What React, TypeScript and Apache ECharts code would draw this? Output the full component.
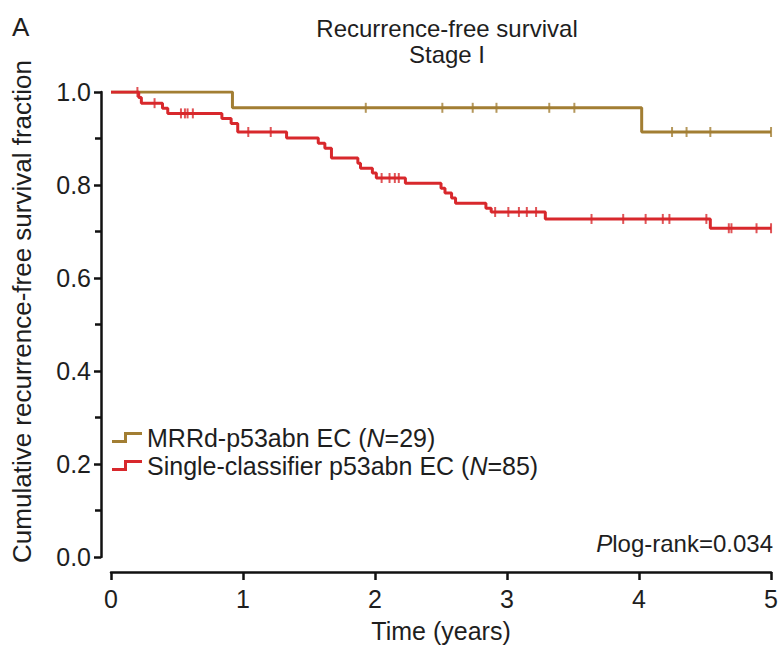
import React, { useEffect, useRef } from "react";
import * as echarts from "echarts";

// ---- data ----
const goldTimes = [0, 0.92, 4.02];
const goldSurv = [1.0, 0.966, 0.914];
const goldCensorTimes = [1.93, 2.51, 2.74, 2.92, 3.32, 3.51, 4.25, 4.36, 4.54, 5.0];

const redTimes = [0, 0.21, 0.23, 0.39, 0.43, 0.84, 0.91, 0.96, 1.33, 1.57, 1.62, 1.67, 1.87, 1.89, 1.98, 2.01, 2.23, 2.5, 2.53, 2.58, 2.61, 2.84, 2.88, 3.29, 4.54];
const redSurv = [1.0, 0.988, 0.976, 0.965, 0.954, 0.943, 0.932, 0.914, 0.901, 0.89, 0.879, 0.858, 0.847, 0.836, 0.826, 0.815, 0.804, 0.793, 0.783, 0.772, 0.761, 0.75, 0.742, 0.727, 0.707];
const redCensorTimes = [0.2, 0.33, 0.53, 0.56, 0.58, 0.62, 1.04, 1.21, 2.05, 2.11, 2.15, 2.18, 2.91, 3.01, 3.09, 3.15, 3.22, 3.64, 3.88, 4.05, 4.18, 4.23, 4.51, 4.68, 4.7, 4.89, 5.0];

const seriesNames = ["MRRd-p53abn EC", "Single-classifier p53abn EC"];
const seriesN = [29, 85];
const xTickValues = [0, 1, 2, 3, 4, 5];
const yTickValues = [0, 0.2, 0.4, 0.6, 0.8, 1.0];
const titleLines = ["Recurrence-free survival", "Stage I"];
const pValueText = "log-rank=0.034";

const GOLD = "#a27e33";
const RED = "#d8282c";
const FONT = "'Liberation Sans', Arial, sans-serif";
const TEXT = "#1e1e1e";

function stepData(times: number[], surv: number[], end: number) {
  const d = times.map((t, i) => [t, surv[i]]);
  d.push([end, surv[surv.length - 1]]);
  return d;
}
function levelAt(times: number[], surv: number[], t: number) {
  let s = surv[0];
  for (let i = 0; i < times.length; i++) if (times[i] <= t) s = surv[i];
  return s;
}

const STEP_ICON = "path://M0,8 L12,8 L12,0 L30,0 L30,3 L15,3 L15,11 L0,11 Z";

export default function App() {
  const ref = useRef<HTMLDivElement>(null);
  useEffect(() => {
    if (!ref.current) return;
    const chart = echarts.init(ref.current, null, { renderer: "svg" });
    const xMax = xTickValues[xTickValues.length - 1];
    const option: any = {
      animation: false,
      backgroundColor: "#ffffff",
      textStyle: { fontFamily: FONT, color: TEXT },
      title: {
        text: titleLines.join("\n"),
        left: 442,
        top: 10,
        textAlign: "center",
        textStyle: { fontFamily: FONT, fontSize: 24, fontWeight: "normal", color: TEXT, lineHeight: 26 },
      },
      grid: { left: 111, right: 8, top: 92, bottom: 90 },
      xAxis: {
        type: "value",
        min: 0,
        max: xMax,
        interval: 1,
        offset: 15,
        name: "Time (years)",
        nameLocation: "middle",
        nameGap: 46,
        nameTextStyle: { fontFamily: FONT, fontSize: 25, color: TEXT },
        axisLine: { show: true, onZero: false, lineStyle: { color: "#111", width: 2.5 } },
        axisTick: { show: true, length: 8, lineStyle: { color: "#111", width: 2.5 } },
        axisLabel: { fontFamily: FONT, fontSize: 25, color: TEXT, margin: 14 },
        splitLine: { show: false },
      },
      yAxis: {
        type: "value",
        min: yTickValues[0],
        max: yTickValues[yTickValues.length - 1],
        interval: 0.2,
        offset: 10,
        name: "Cumulative recurrence-free survival fraction",
        nameLocation: "middle",
        nameGap: 66,
        nameTextStyle: { fontFamily: FONT, fontSize: 26, color: TEXT, padding: [0, 0, 0, 26] },
        axisLine: { show: true, onZero: false, lineStyle: { color: "#111", width: 2.5 } },
        axisTick: { show: true, length: 7, lineStyle: { color: "#111", width: 2.5 } },
        minorTick: { show: true, splitNumber: 2, length: 6, lineStyle: { color: "#111", width: 2.5 } },
        axisLabel: { fontFamily: FONT, fontSize: 25, color: TEXT, margin: 10, formatter: (v: number) => v.toFixed(1) },
        splitLine: { show: false },
        minorSplitLine: { show: false },
      },
      legend: {
        orient: "vertical",
        left: 107,
        top: 420,
        itemGap: 3,
        itemWidth: 30,
        itemHeight: 11,
        data: seriesNames.map((n) => ({ name: n, icon: STEP_ICON })),
        formatter: (name: string) => {
          const i = seriesNames.indexOf(name);
          return `{a|${name} (}{i|N}{a|=${seriesN[i]})}`;
        },
        textStyle: {
          fontFamily: FONT,
          fontSize: 25,
          color: TEXT,
          rich: {
            a: { fontFamily: FONT, fontSize: 25, color: TEXT, lineHeight: 26 },
            i: { fontFamily: FONT, fontSize: 25, color: TEXT, fontStyle: "italic", lineHeight: 26 },
          },
        },
      },
      graphic: [
        { type: "text", left: 12, top: 14, style: { text: "A", fontFamily: FONT, fontSize: 26, fill: TEXT } },
        {
          type: "text",
          x: 773,
          y: 543,
          style: {
            text: `{i|P}{a|${pValueText}}`,
            align: "right",
            verticalAlign: "middle",
            rich: {
              a: { fontFamily: FONT, fontSize: 24, fill: TEXT, color: TEXT },
              i: { fontFamily: FONT, fontSize: 24, fill: TEXT, color: TEXT, fontStyle: "italic" },
            },
          },
        },
      ],
      series: [
        {
          name: seriesNames[0],
          type: "line",
          step: "end",
          showSymbol: false,
          data: stepData(goldTimes, goldSurv, xMax),
          lineStyle: { color: GOLD, width: 3 },
          itemStyle: { color: GOLD },
          z: 2,
        },
        {
          name: seriesNames[0],
          type: "scatter",
          symbol: "rect",
          symbolSize: [2, 10],
          data: goldCensorTimes.map((t) => [t, levelAt(goldTimes, goldSurv, t)]),
          itemStyle: { color: GOLD },
          z: 2,
        },
        {
          name: seriesNames[1],
          type: "line",
          step: "end",
          showSymbol: false,
          data: stepData(redTimes, redSurv, xMax),
          lineStyle: { color: RED, width: 3 },
          itemStyle: { color: RED },
          z: 3,
        },
        {
          name: seriesNames[1],
          type: "scatter",
          symbol: "rect",
          symbolSize: [2, 10],
          data: redCensorTimes.map((t) => [t, levelAt(redTimes, redSurv, t)]),
          itemStyle: { color: RED },
          z: 3,
        },
      ],
    };
    chart.setOption(option);
    return () => chart.dispose();
  }, []);
  return <div ref={ref} style={{ width: 781, height: 648, position: "absolute", left: 0, top: 0 }} />;
}
